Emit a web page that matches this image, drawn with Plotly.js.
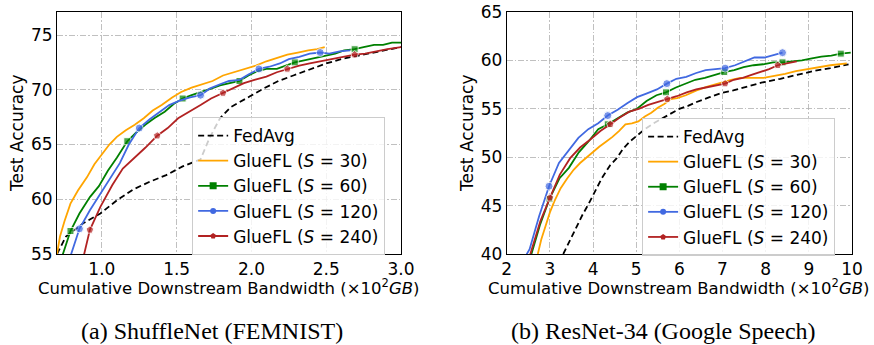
<!DOCTYPE html>
<html>
<head>
<meta charset="utf-8">
<script src="https://cdn.plot.ly/plotly-3.0.1.min.js"></script>
<style>html,body{margin:0;padding:0;background:#fff;}#chart{width:874px;height:345px;}</style>
</head>
<body>
<div id="chart"></div>
<script>
// ---------- Panel (a): ShuffleNet (FEMNIST) ----------
const aFedX = [0.70, 0.76, 0.875, 0.99, 1.10, 1.21, 1.32, 1.43, 1.54, 1.66, 1.72, 1.79, 1.86, 1.93, 1.99, 2.08, 2.18, 2.28, 2.40, 2.50, 2.60, 2.71, 2.85, 3.00];
const aFedY = [55.0, 56.6, 57.8, 58.7, 59.9, 60.9, 61.6, 62.2, 63.0, 63.65, 65.6, 67.4, 68.4, 68.9, 69.4, 70.1, 70.8, 71.3, 71.9, 72.4, 72.8, 73.1, 73.5, 73.9];

const aS30X = [0.70, 0.72, 0.75, 0.79, 0.84, 0.90, 0.95, 1.00, 1.05, 1.10, 1.16, 1.22, 1.28, 1.34, 1.40, 1.47, 1.53, 1.60, 1.67, 1.74, 1.81, 1.88, 1.95, 2.03, 2.10, 2.17, 2.24, 2.31, 2.38, 2.44, 2.49];
const aS30Y = [55.0, 56.6, 58.0, 59.6, 60.8, 62.0, 63.2, 64.1, 65.0, 65.7, 66.3, 66.8, 67.4, 68.1, 68.6, 69.3, 69.8, 70.2, 70.5, 70.8, 71.3, 71.6, 71.9, 72.2, 72.6, 72.9, 73.2, 73.4, 73.6, 73.7, 73.9];

const aS60X = [0.73, 0.79, 0.85, 0.92, 0.98, 1.04, 1.10, 1.17, 1.23, 1.29, 1.35, 1.42, 1.48, 1.54, 1.60, 1.67, 1.73, 1.79, 1.85, 1.92, 1.98, 2.04, 2.10, 2.17, 2.23, 2.29, 2.36, 2.42, 2.49, 2.56, 2.62, 2.69, 2.75, 2.82, 2.88, 2.94, 3.00];
const aS60Y = [54.6, 57.1, 58.7, 60.2, 61.2, 62.6, 63.8, 65.3, 66.1, 66.8, 67.4, 68.0, 68.7, 69.2, 69.5, 69.8, 70.1, 70.4, 70.6, 70.8, 71.3, 71.7, 71.9, 71.9, 72.2, 72.5, 72.7, 72.9, 73.1, 73.3, 73.6, 73.7, 73.9, 74.1, 74.1, 74.3, 74.3];

const aS120X = [0.79, 0.85, 0.92, 0.98, 1.05, 1.12, 1.18, 1.25, 1.32, 1.39, 1.45, 1.52, 1.59, 1.66, 1.72, 1.79, 1.85, 1.92, 1.98, 2.05, 2.12, 2.19, 2.25, 2.32, 2.39, 2.46, 2.52, 2.59, 2.66];
const aS120Y = [54.8, 57.3, 59.0, 60.3, 61.9, 63.3, 65.0, 66.5, 67.3, 68.0, 68.6, 69.0, 69.3, 69.5, 70.1, 70.5, 70.8, 70.9, 71.4, 71.9, 72.1, 72.4, 72.8, 73.0, 73.3, 73.4, 73.3, 73.5, 73.6];

const aS240X = [0.88, 0.92, 0.99, 1.07, 1.14, 1.22, 1.29, 1.37, 1.44, 1.51, 1.59, 1.66, 1.73, 1.81, 1.88, 1.95, 2.02, 2.10, 2.17, 2.24, 2.32, 2.39, 2.46, 2.54, 2.61, 2.69, 2.76, 2.83, 2.91, 3.00];
const aS240Y = [54.9, 57.2, 59.3, 61.3, 62.8, 63.8, 64.7, 65.8, 66.5, 67.4, 68.0, 68.6, 69.2, 69.7, 70.1, 70.6, 70.9, 71.2, 71.6, 71.9, 72.2, 72.4, 72.6, 72.8, 73.0, 73.2, 73.3, 73.5, 73.7, 73.9];

// ---------- Panel (b): ResNet-34 (Google Speech) ----------
const bFedX = [3.31, 3.45, 3.60, 3.75, 3.90, 4.05, 4.20, 4.40, 4.55, 4.70, 4.85, 5.01, 5.20, 5.40, 5.60, 5.79, 6.00, 6.20, 6.40, 6.70, 6.95, 7.25, 7.56, 7.90, 8.34, 8.70, 9.11, 9.50, 9.92];
const bFedY = [40.0, 41.3, 42.7, 44.0, 45.2, 46.5, 47.8, 49.2, 49.9, 50.9, 51.6, 52.2, 52.9, 53.5, 54.0, 54.5, 55.0, 55.3, 55.7, 56.2, 56.6, 56.9, 57.3, 57.7, 58.1, 58.5, 58.9, 59.2, 59.6];

const bS30X = [2.72, 2.80, 2.90, 3.00, 3.10, 3.25, 3.40, 3.55, 3.70, 3.85, 4.00, 4.15, 4.30, 4.45, 4.60, 4.75, 4.90, 5.05, 5.20, 5.35, 5.50, 5.65, 5.80, 5.95, 6.15, 6.40, 6.65, 6.95, 7.20, 7.41, 7.70, 7.95, 8.20, 8.45, 8.70, 8.96, 9.20, 9.50, 9.88];
const bS30Y = [40.0, 41.5, 42.9, 44.3, 45.4, 46.8, 47.8, 48.7, 49.4, 50.0, 50.6, 51.1, 51.6, 52.1, 52.7, 53.4, 53.5, 53.7, 54.2, 54.6, 55.1, 55.5, 56.0, 56.1, 56.4, 56.9, 57.3, 57.7, 58.0, 58.2, 58.2, 58.2, 58.4, 58.6, 58.9, 59.1, 59.3, 59.5, 59.7];

const bS60X = [2.54, 2.77, 2.99, 3.22, 3.44, 3.67, 3.89, 4.12, 4.34, 4.57, 4.79, 5.02, 5.24, 5.47, 5.69, 5.92, 6.14, 6.37, 6.59, 6.82, 7.04, 7.27, 7.49, 7.72, 7.94, 8.17, 8.39, 8.62, 8.84, 9.07, 9.29, 9.52, 9.74, 9.97];
const bS60Y = [39.5, 43.0, 45.7, 47.8, 48.9, 50.5, 51.6, 52.9, 53.4, 54.0, 54.6, 55.0, 55.8, 56.4, 56.7, 57.2, 57.6, 58.0, 58.2, 58.5, 58.8, 59.0, 59.3, 59.5, 59.6, 59.8, 59.8, 59.9, 60.0, 60.2, 60.4, 60.5, 60.7, 60.8];

const bS120X = [2.44, 2.53, 2.75, 2.98, 3.21, 3.43, 3.66, 3.89, 4.12, 4.34, 4.57, 4.80, 5.02, 5.25, 5.48, 5.71, 5.93, 6.16, 6.39, 6.61, 6.84, 7.06, 7.29, 7.51, 7.74, 7.97, 8.19, 8.39];
const bS120Y = [39.8, 40.5, 43.9, 47.0, 49.4, 50.7, 52.0, 52.9, 53.5, 54.3, 54.9, 55.6, 56.2, 56.6, 57.0, 57.6, 58.1, 58.3, 58.7, 59.0, 59.1, 59.2, 59.5, 59.9, 60.3, 60.3, 60.6, 60.8];

const bS240X = [2.52, 2.78, 3.00, 3.23, 3.47, 3.70, 3.93, 4.17, 4.40, 4.62, 4.84, 5.06, 5.28, 5.50, 5.72, 5.94, 6.17, 6.39, 6.61, 6.84, 7.06, 7.26, 7.47, 7.67, 7.87, 8.08, 8.28, 8.50, 8.72];
const bS240Y = [39.6, 43.4, 45.8, 48.2, 49.9, 51.0, 51.8, 52.7, 53.4, 54.1, 54.7, 55.0, 55.4, 55.7, 56.0, 56.3, 56.7, 57.0, 57.2, 57.4, 57.6, 58.0, 58.2, 58.5, 58.8, 59.1, 59.5, 59.7, 59.9];

const seriesNames = ['FedAvg', 'GlueFL (<i>S</i> = 30)', 'GlueFL (<i>S</i> = 60)', 'GlueFL (<i>S</i> = 120)', 'GlueFL (<i>S</i> = 240)'];
const captions = ['(a) ShuffleNet (FEMNIST)', '(b) ResNet-34 (Google Speech)'];
const xTitle = 'Cumulative Downstream Bandwidth (×10<sup>2</sup><i>GB</i>)';
const yTitle = 'Test Accuracy';

// styles
const styles = [
  {color: '#000000', dash: '6px,3.5px', symbol: null},
  {color: '#FFA500', dash: 'solid', symbol: null},
  {color: '#008000', dash: 'solid', symbol: 'square'},
  {color: '#4169E1', dash: 'solid', symbol: 'circle'},
  {color: '#B22222', dash: 'solid', symbol: 'pentagon'}
];
const markerOffsetA = [0, 0, 1, 1, 1];
const markerOffsetB = [0, 0, 2, 3, 2];
const MARK_EVERY = 6;

function makeTraces(xs, ys, offsets, xa, ya, legendId) {
  const out = [];
  xs.forEach((x, k) => {
    const st = styles[k];
    const tr = {
      x: x, y: ys[k], xaxis: xa, yaxis: ya, type: 'scatter',
      mode: st.symbol ? 'lines+markers' : 'lines',
      line: {color: st.color, width: 1.8, dash: st.dash},
      showlegend: false, hoverinfo: 'skip', cliponaxis: true
    };
    if (st.symbol) {
      tr.marker = {symbol: st.symbol, color: st.color,
        size: x.map((_, i) => (i % MARK_EVERY === offsets[k] ? (st.symbol === 'square' ? 7 : 8) : 0))};
    }
    out.push(tr);
    // legend entry
    const lg = {
      x: [null], y: [null], xaxis: xa, yaxis: ya, type: 'scatter',
      mode: st.symbol ? 'lines+markers' : 'lines',
      name: seriesNames[k], legend: legendId,
      line: {color: st.color, width: 1.8, dash: st.dash},
      showlegend: true, hoverinfo: 'skip'
    };
    if (st.symbol) lg.marker = {symbol: st.symbol, color: st.color, size: st.symbol === 'square' ? 7 : 6};
    out.push(lg);
  });
  return out;
}

const data = [].concat(
  makeTraces([aFedX, aS30X, aS60X, aS120X, aS240X], [aFedY, aS30Y, aS60Y, aS120Y, aS240Y], markerOffsetA, 'x', 'y', 'legend'),
  makeTraces([bFedX, bS30X, bS60X, bS120X, bS240X], [bFedY, bS30Y, bS60Y, bS120Y, bS240Y], markerOffsetB, 'x2', 'y2', 'legend2')
);

const FONT = 'DejaVu Sans, sans-serif';
const axisCommon = {
  showline: true, mirror: true, linecolor: '#000', linewidth: 1,
  ticks: '', showgrid: true, gridcolor: '#b0b0b0', gridwidth: 0.8, griddash: '6px,2px,1.5px,2px',
  zeroline: false, tickfont: {family: FONT, size: 17, color: '#000'}, fixedrange: true
};
const legendCommon = {
  bgcolor: 'rgba(255,255,255,0.8)', bordercolor: '#cccccc', borderwidth: 1,
  font: {family: FONT, size: 17, color: '#000'}, xanchor: 'left', yanchor: 'top',
  tracegroupgap: 0, itemwidth: 30
};

const layout = {
  width: 874, height: 345,
  margin: {l: 57, r: 22, t: 12, b: 91},
  paper_bgcolor: '#fff', plot_bgcolor: '#fff',
  font: {family: FONT, color: '#000'},
  xaxis: Object.assign({}, axisCommon, {domain: [0, 0.4327], range: [0.7, 3.0], dtick: 0.5, tick0: 0, tickformat: '.1f', anchor: 'y'}),
  yaxis: Object.assign({}, axisCommon, {domain: [0, 1], range: [55, 77.1], dtick: 5, tick0: 0, anchor: 'x'}),
  xaxis2: Object.assign({}, axisCommon, {domain: [0.5657, 1], range: [2, 10], dtick: 1, tick0: 0, anchor: 'y2'}),
  yaxis2: Object.assign({}, axisCommon, {domain: [0, 1], range: [40, 65], dtick: 5, tick0: 0, anchor: 'x2'}),
  legend: Object.assign({}, legendCommon, {x: 0.17, y: 0.566}),
  legend2: Object.assign({}, legendCommon, {x: 0.736, y: 0.562}),
  annotations: [
    {text: yTitle, xref: 'paper', yref: 'paper', x: -0.0503, y: 0.5, textangle: -90, showarrow: false, xanchor: 'center', yanchor: 'middle', font: {family: FONT, size: 17}},
    {text: yTitle, xref: 'paper', yref: 'paper', x: 0.5157, y: 0.5, textangle: -90, showarrow: false, xanchor: 'center', yanchor: 'middle', font: {family: FONT, size: 17}},
    {text: xTitle, xref: 'paper', yref: 'paper', x: 0.2164, y: -0.136, showarrow: false, xanchor: 'center', yanchor: 'middle', font: {family: FONT, size: 16.5}},
    {text: xTitle, xref: 'paper', yref: 'paper', x: 0.7824, y: -0.136, showarrow: false, xanchor: 'center', yanchor: 'middle', font: {family: FONT, size: 16.5}},
    {text: captions[0], xref: 'paper', yref: 'paper', x: (212 - 57) / 795, y: (254 - 331) / 242, showarrow: false, xanchor: 'center', yanchor: 'middle', font: {family: 'Liberation Serif, serif', size: 24}},
    {text: captions[1], xref: 'paper', yref: 'paper', x: (663 - 57) / 795, y: (254 - 331) / 242, showarrow: false, xanchor: 'center', yanchor: 'middle', font: {family: 'Liberation Serif, serif', size: 24}}
  ]
};

Plotly.newPlot('chart', data, layout, {displayModeBar: false, staticPlot: true});
</script>
</body>
</html>
